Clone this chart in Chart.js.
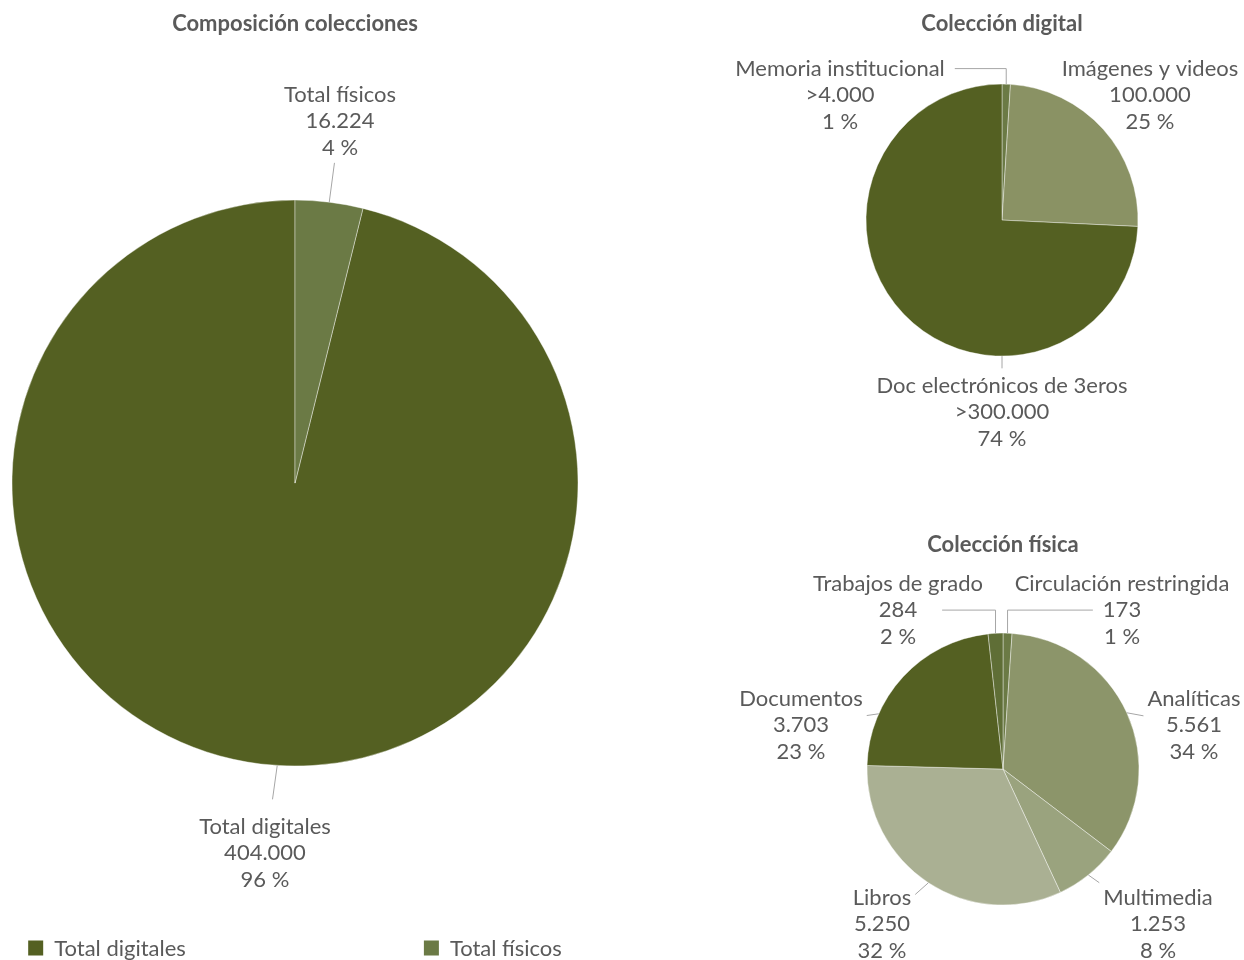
<!DOCTYPE html>
<html>
<head>
<meta charset="utf-8">
<script src="https://cdn.jsdelivr.net/npm/chart.js@4.4.1/dist/chart.umd.min.js"></script>
<style>
  html, body { margin: 0; padding: 0; background: #fff; width: 1244px; height: 960px; overflow: hidden; }
  canvas { position: absolute; }
  #chartMain { left: 0px; top: 0px; }
  #chartDigital { left: 730px; top: 0px; }
  #chartFisica { left: 731px; top: 520px; }
</style>
</head>
<body>
<canvas id="chartMain" width="590" height="960"></canvas>
<canvas id="chartDigital" width="544" height="470"></canvas>
<canvas id="chartFisica" width="544" height="440"></canvas>
<script>
// data
const mainLabels = ['Total digitales', 'Total físicos'];
const mainValues = [404000, 16224];

const digitalLabels = ['Memoria institucional', 'Imágenes y videos', 'Doc electrónicos de 3eros'];
const digitalValues = [4000, 100000, 300000];
const digitalPrefix = ['>', '', '>'];

const fisicaLabels = ['Circulación restringida', 'Analíticas', 'Multimedia', 'Libros', 'Documentos', 'Trabajos de grado'];
const fisicaValues = [173, 5561, 1253, 5250, 3703, 284];

const FONT = 'Lato, "Open Sans", sans-serif';
const TXT = '#5a5a5a';
const LEADER = '#a6a6a6';
const LINE_H = 26.5;

function fmt(n) {
    return String(n).replace(/\B(?=(\d{3})+(?!\d))/g, '.');
}

// draws the 3-line data labels + leader lines
const sliceLabels = {
    id: 'sliceLabels',
    afterDatasetsDraw(chart, args, opts) {
        const ctx = chart.ctx;
        const meta = chart.getDatasetMeta(0);
        const values = chart.data.datasets[0].data;
        const total = values.reduce((a, b) => a + b, 0);
        ctx.save();
        ctx.font = opts.fontSize + 'px ' + FONT;
        meta.data.forEach((arc, i) => {
            const lay = opts.layout[i];
            const pre = opts.prefix ? opts.prefix[i] : '';
            const lines = [chart.data.labels[i], pre + fmt(values[i]), Math.round(values[i] / total * 100) + ' %'];
            const r = arc.outerRadius;
            const ang = lay.angle !== undefined ? (lay.angle - 90) * Math.PI / 180 : (arc.startAngle + arc.endAngle) / 2;
            const ax = arc.x + Math.cos(ang) * r;
            const ay = arc.y + Math.sin(ang) * r;
            const lx = arc.x + lay.dx;
            const ly = arc.y + lay.dy;

            // text
            ctx.fillStyle = TXT;
            ctx.textAlign = 'center';
            ctx.textBaseline = 'middle';
            lines.forEach((t, k) => ctx.fillText(t, lx, ly + (k - 1) * LINE_H));

            // leader
            ctx.strokeStyle = LEADER;
            ctx.lineWidth = 1;
            ctx.beginPath();
            if (lay.elbow) {
                const rowY = ly + (lay.row - 1) * LINE_H;
                const w = ctx.measureText(lines[lay.row]).width;
                const ex = lx < ax ? lx + w / 2 + lay.gap : lx - w / 2 - lay.gap;
                ctx.moveTo(ax, ay);
                ctx.lineTo(ax, rowY);
                ctx.lineTo(ex, rowY);
            } else {
                let hw = 0;
                lines.forEach(t => { hw = Math.max(hw, ctx.measureText(t).width / 2); });
                const hh = LINE_H * 1.5;
                const g = lay.gap !== undefined ? lay.gap : 4;
                const dx = lx - ax, dy = ly - ay;
                const s = Math.min(dx !== 0 ? (hw + g) / Math.abs(dx) : Infinity, dy !== 0 ? (hh + g) / Math.abs(dy) : Infinity);
                if (s < 1) {
                    ctx.moveTo(ax, ay);
                    ctx.lineTo(lx - dx * s, ly - dy * s);
                }
            }
            ctx.stroke();
        });
        ctx.restore();
    }
};

// simple legend at bottom of main chart
const bottomLegend = {
    id: 'bottomLegend',
    afterDraw(chart, args, opts) {
        if (!opts.show) return;
        const ctx = chart.ctx;
        const colors = chart.data.datasets[0].backgroundColor;
        ctx.save();
        ctx.font = opts.fontSize + 'px ' + FONT;
        const widths = chart.data.labels.map(t => 15 + 11 + ctx.measureText(t).width);
        const totalW = widths.reduce((a, b) => a + b, 0) + opts.gap * (widths.length - 1);
        let x = chart.width / 2 - totalW / 2;
        chart.data.labels.forEach((t, i) => {
            ctx.fillStyle = colors[i];
            ctx.fillRect(x, opts.y - 7.5, 15, 15);
            ctx.fillStyle = TXT;
            ctx.textAlign = 'left';
            ctx.textBaseline = 'middle';
            ctx.fillText(t, x + 26, opts.y + 1);
            x += widths[i] + opts.gap;
        });
        ctx.restore();
    }
};

function makePie(id, title, labels, values, colors, cfg) {
    return new Chart(document.getElementById(id), {
        type: 'pie',
        data: {
            labels: labels,
            datasets: [{
                data: values,
                backgroundColor: colors,
                borderColor: 'rgba(255,255,255,0.4)',
                borderWidth: 1,
                radius: cfg.radius
            }]
        },
        plugins: [sliceLabels, bottomLegend],
        options: {
            responsive: false,
            animation: false,
            events: [],
            rotation: cfg.rotation || 0,
            layout: { padding: cfg.padding },
            plugins: {
                legend: { display: false },
                tooltip: { enabled: false },
                title: {
                    display: true,
                    text: title,
                    color: TXT,
                    font: { family: FONT, size: 22, weight: 'bold', lineHeight: 1.1 },
                    padding: { top: 0, bottom: cfg.titleGap }
                },
                sliceLabels: { fontSize: 22, layout: cfg.labelLayout, prefix: cfg.prefix },
                bottomLegend: cfg.legend || { show: false }
            }
        }
    });
}

makePie('chartMain', 'Composición colecciones', mainLabels, mainValues, ['#546022', '#6b7a45'], {
    radius: 283,
    rotation: mainValues[1] / (mainValues[0] + mainValues[1]) * 360,
    padding: { top: 12, bottom: 34, left: 0, right: 0 },
    titleGap: 4,
    labelLayout: [
        { angle: 183.6, dx: -30, dy: 370, gap: 14 },
        { dx: 45, dy: -362, gap: 2 }
    ],
    legend: { show: true, y: 948, gap: 238, fontSize: 22 }
});

makePie('chartDigital', 'Colección digital', digitalLabels, digitalValues, ['#6b7a45', '#8a9264', '#546022'], {
    radius: 136,
    padding: { top: 12, bottom: 70, left: 0, right: 0 },
    titleGap: 4,
    prefix: digitalPrefix,
    labelLayout: [
        { elbow: true, row: 0, gap: 10, dx: -162, dy: -125 },
        { dx: 148, dy: -125 },
        { angle: 180, dx: 0, dy: 192 }
    ]
});

makePie('chartFisica', 'Colección física', fisicaLabels, fisicaValues,
    ['#6b7a45', '#8c956a', '#9aa37e', '#aab093', '#546022', '#5f6e36'], {
    radius: 136,
    padding: { top: 13, bottom: 10, left: 0, right: 0 },
    titleGap: 31,
    labelLayout: [
        { elbow: true, row: 1, gap: 10, dx: 119, dy: -159 },
        { dx: 191, dy: -44 },
        { dx: 155, dy: 155 },
        { dx: -121, dy: 155 },
        { angle: 294, dx: -202, dy: -44 },
        { elbow: true, row: 1, gap: 25, dx: -105, dy: -159 }
    ]
});
</script>
</body>
</html>
